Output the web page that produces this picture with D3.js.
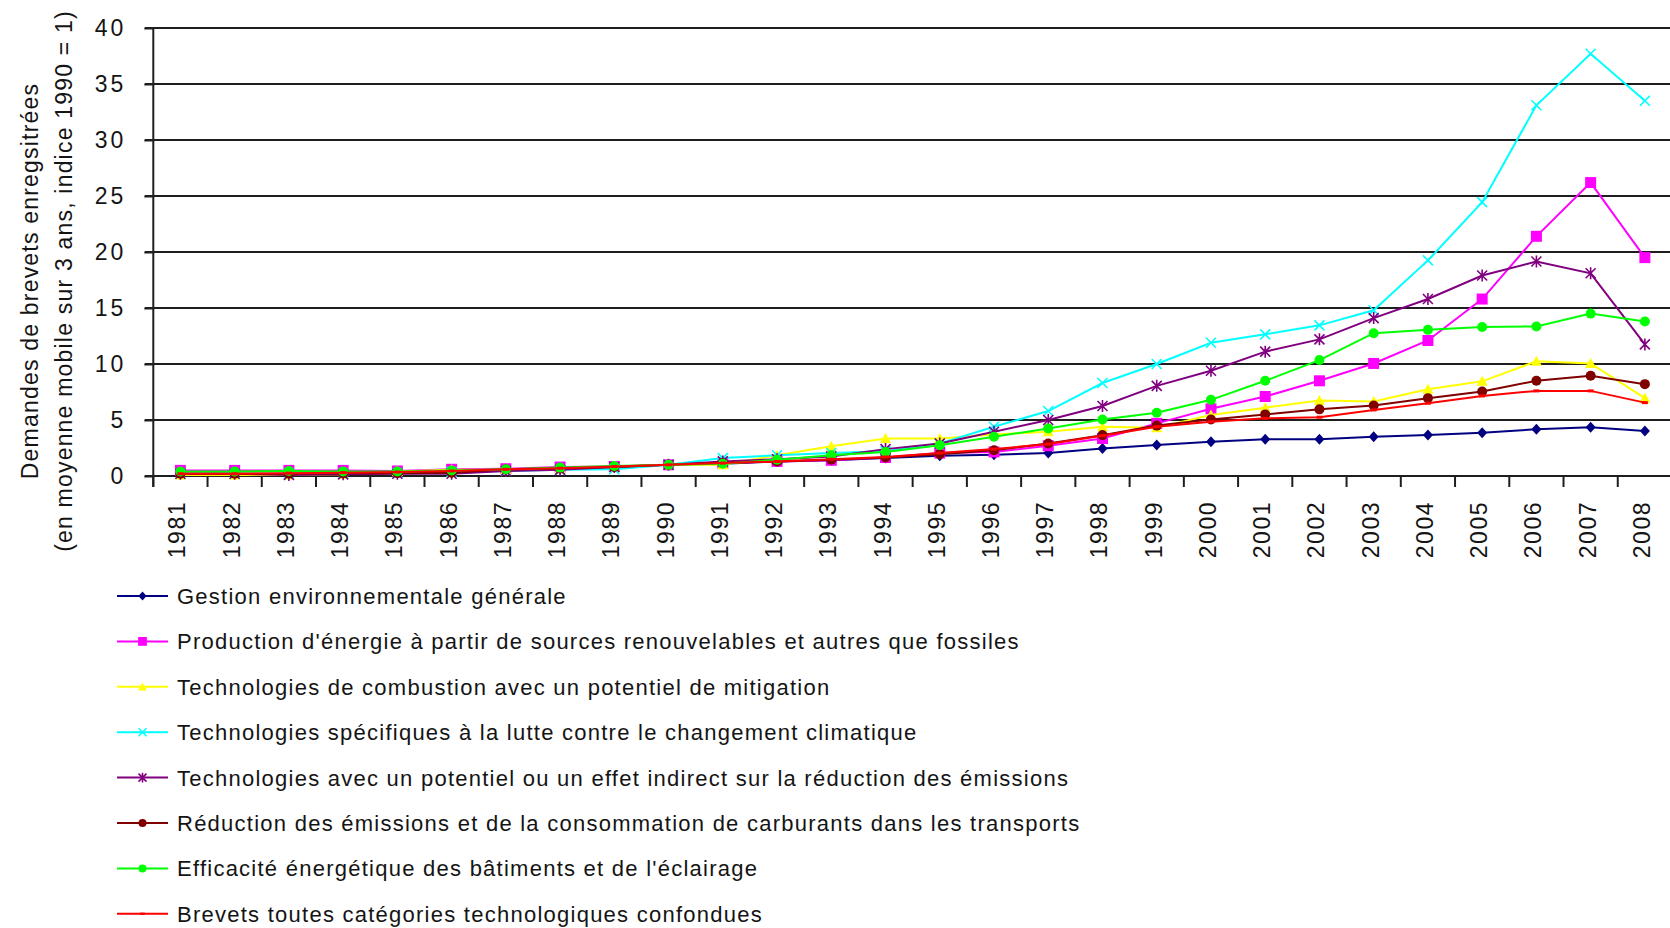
<!DOCTYPE html>
<html>
<head>
<meta charset="utf-8">
<script src="https://cdn.jsdelivr.net/npm/d3@7"></script>
<style>
  body { margin: 0; background: #fff; }
  svg { display: block; }
  text { font-family: "Liberation Sans", Arial, sans-serif; fill: #141414; }
</style>
</head>
<body>
<svg id="chart" width="1670" height="928"></svg>
<script>
// Categories (years) and axis ticks
const years = ["1981","1982","1983","1984","1985","1986","1987","1988","1989","1990",
               "1991","1992","1993","1994","1995","1996","1997","1998","1999","2000",
               "2001","2002","2003","2004","2005","2006","2007","2008"];
const yTickValues = [0, 5, 10, 15, 20, 25, 30, 35, 40];

// Series: patent applications, 3-year moving average, index 1990 = 1
const gestion      = [0.2,0.2,0.15,0.2,0.3,0.3,0.5,0.6,0.8,1.0,1.1,1.3,1.4,1.6,1.8,1.9,2.05,2.45,2.77,3.05,3.28,3.28,3.5,3.65,3.87,4.17,4.35,4.02];
const production   = [0.5,0.5,0.5,0.5,0.45,0.6,0.65,0.8,0.85,1.0,1.15,1.3,1.4,1.65,2.05,2.15,2.7,3.35,4.7,6.0,7.1,8.5,10.05,12.1,15.8,21.4,26.2,19.5];
const combustion   = [0.1,0.1,0.1,0.15,0.4,0.55,0.55,0.65,0.8,1.0,1.0,1.85,2.65,3.35,3.35,3.7,3.95,4.4,4.3,5.45,6.1,6.75,6.65,7.75,8.45,10.25,10.05,6.95];
const specifiques  = [0.2,0.2,0.2,0.2,0.25,0.35,0.45,0.55,0.6,1.0,1.6,1.85,2.05,2.2,2.9,4.4,5.8,8.3,10.0,11.9,12.65,13.45,14.8,19.25,24.45,33.1,37.7,33.5];
const indirect     = [0.2,0.2,0.1,0.15,0.2,0.2,0.45,0.55,0.8,1.0,1.3,1.5,1.75,2.4,2.9,3.95,5.0,6.25,8.05,9.4,11.1,12.2,14.1,15.8,17.9,19.15,18.1,11.75];
const transports   = [0.2,0.2,0.2,0.25,0.25,0.3,0.6,0.7,0.8,1.0,1.15,1.3,1.45,1.65,1.95,2.3,2.9,3.65,4.5,5.05,5.5,5.95,6.3,6.95,7.55,8.5,8.95,8.2];
const efficacite   = [0.4,0.4,0.45,0.4,0.4,0.5,0.6,0.75,0.9,1.0,1.1,1.45,1.85,2.15,2.75,3.5,4.25,5.05,5.65,6.8,8.5,10.35,12.75,13.05,13.3,13.35,14.5,13.8];
const toutes       = [0.2,0.2,0.25,0.3,0.35,0.45,0.6,0.7,0.85,1.0,1.15,1.3,1.5,1.7,2.05,2.4,2.85,3.6,4.4,4.85,5.15,5.25,5.9,6.5,7.15,7.6,7.6,6.55];

const seriesNames = [
  "Gestion environnementale générale",
  "Production d'énergie à partir de sources renouvelables et autres que fossiles",
  "Technologies de combustion avec un potentiel de mitigation",
  "Technologies spécifiques à la lutte contre le changement climatique",
  "Technologies avec un potentiel ou un effet indirect sur la réduction des émissions",
  "Réduction des émissions et de la consommation de carburants dans les transports",
  "Efficacité énergétique des bâtiments et de l'éclairage",
  "Brevets toutes catégories technologiques confondues"
];
const seriesValues  = [gestion, production, combustion, specifiques, indirect, transports, efficacite, toutes];
const seriesColors  = ["#000080","#FF00FF","#FFFF00","#00FFFF","#800080","#800000","#00FF00","#FF0000"];
const seriesMarkers = ["diamond","square","triangle","x","star","circle","circle","dash"];

const yTitle = ["Demandes de brevets enregsitrées", "(en moyenne mobile sur 3 ans, indice 1990 = 1)"];

const svg = d3.select("#chart");

const x = d3.scaleBand().domain(years).range([153.3, 1672]);
const y = d3.scaleLinear().domain([0, 40]).range([476, 28]);
const cx = d => x(d) + x.bandwidth() / 2;

// Horizontal gridlines
svg.append("g").selectAll("line").data(yTickValues).join("line")
  .attr("x1", 145).attr("x2", 1672)
  .attr("y1", d => y(d)).attr("y2", d => y(d))
  .attr("stroke", "#1e1e1e").attr("stroke-width", 2);

// Y axis with labels
const yAxis = svg.append("g").attr("transform", "translate(153.3,0)")
  .call(d3.axisLeft(y).tickValues(yTickValues).tickSize(9).tickPadding(18).tickFormat(d3.format("d")));
yAxis.select(".domain").remove();
yAxis.selectAll(".tick line").attr("stroke", "#1e1e1e").attr("stroke-width", 2);
yAxis.selectAll(".tick text")
  .attr("font-size", 23).attr("letter-spacing", "3px").attr("dy", "0.33em")
  .style("font-family", "'Liberation Sans', Arial, sans-serif").attr("fill", "#141414");

// Vertical axis line, extended below the category axis
svg.append("line").attr("x1", 153.3).attr("x2", 153.3).attr("y1", 27).attr("y2", 487)
  .attr("stroke", "#1e1e1e").attr("stroke-width", 2);

// Category tick marks at band edges
const edges = years.map(d => x(d)).concat([x.range()[1]]);
svg.append("g").selectAll("line").data(edges).join("line")
  .attr("x1", d => d).attr("x2", d => d).attr("y1", 476).attr("y2", 487)
  .attr("stroke", "#1e1e1e").attr("stroke-width", 2);

// Category labels, rotated
svg.append("g").selectAll("text").data(years).join("text")
  .attr("transform", d => `translate(${cx(d)},501) rotate(-90)`)
  .attr("text-anchor", "end").attr("dy", 5)
  .attr("font-size", 23).attr("letter-spacing", "1.5px")
  .text(d => d);

// Y axis title (two lines)
svg.append("g").selectAll("text").data(yTitle).join("text")
  .attr("transform", (d, i) => `translate(${i === 0 ? 38 : 72},281) rotate(-90)`)
  .attr("text-anchor", "middle")
  .attr("font-size", 23).attr("letter-spacing", "1.2px")
  .text(d => d);

// Marker shapes
function markerPath(type, s) {
  switch (type) {
    case "diamond":  return `M0,${-5.5*s}L${5*s},0L0,${5.5*s}L${-5*s},0Z`;
    case "square":   return `M${-5.5*s},${-5.5*s}h${11*s}v${11*s}h${-11*s}Z`;
    case "triangle": return `M0,${-5.5*s}L${5.5*s},${4.5*s}L${-5.5*s},${4.5*s}Z`;
    case "x":        return `M${-5*s},${-5*s}L${5*s},${5*s}M${5*s},${-5*s}L${-5*s},${5*s}`;
    case "star":     return `M${-5*s},${-5*s}L${5*s},${5*s}M${5*s},${-5*s}L${-5*s},${5*s}M0,${-6*s}L0,${6*s}`;
    case "circle":   return d3.symbol(d3.symbolCircle, Math.PI * 25 * s * s)();
    case "dash":     return `M${-3*s},${-1.5*s}h${6*s}v${3*s}h${-6*s}Z`;
  }
}
const isStroked = t => t === "x" || t === "star";

function drawMarker(g, type, color, s) {
  const p = g.append("path").attr("d", markerPath(type, s));
  if (isStroked(type)) p.attr("fill", "none").attr("stroke", color).attr("stroke-width", 1.6);
  else p.attr("fill", color);
}

// Series lines and markers
const line = d3.line().x((v, i) => cx(years[i])).y(v => y(v));
seriesValues.forEach((vals, k) => {
  const g = svg.append("g");
  g.append("path").datum(vals).attr("d", line)
    .attr("fill", "none").attr("stroke", seriesColors[k]).attr("stroke-width", 2);
  vals.forEach((v, i) => {
    const m = g.append("g").attr("transform", `translate(${cx(years[i])},${y(v)})`);
    drawMarker(m, seriesMarkers[k], seriesColors[k], 1);
  });
});

// Legend
const legend = svg.append("g");
seriesNames.forEach((name, k) => {
  const ly = 596 + k * 45.4;
  const row = legend.append("g").attr("transform", `translate(0,${ly})`);
  row.append("line").attr("x1", 117).attr("x2", 168).attr("y1", 0).attr("y2", 0)
    .attr("stroke", seriesColors[k]).attr("stroke-width", 2);
  const m = row.append("g").attr("transform", "translate(142.5,0)");
  drawMarker(m, seriesMarkers[k], seriesColors[k], 0.8);
  row.append("text").attr("x", 177).attr("y", 8)
    .attr("font-size", 22).attr("letter-spacing", "1.25px")
    .text(name);
});
</script>
</body>
</html>
